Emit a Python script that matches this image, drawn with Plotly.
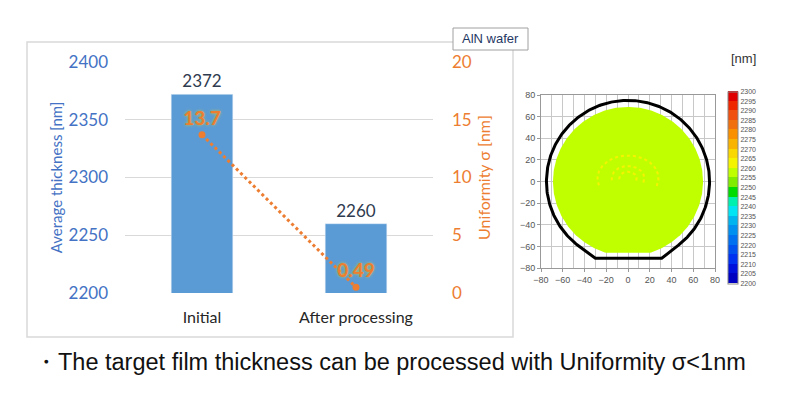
import numpy as np
import plotly.graph_objects as go

# ---------------- data ----------------
categories = ["Initial", "After processing"]
avg_thickness = [2372, 2260]          # nm, bars (left axis)
uniformity = [13.7, 0.49]              # nm, line (right axis)
uniformity_labels = ["13.7", "0.49"]

thick_ticks = [2200, 2250, 2300, 2350, 2400]
unif_ticks = [0, 5, 10, 15, 20]

# wafer map
map_ticks = [-80, -60, -40, -20, 0, 20, 40, 60, 80]
cbar_ticks = list(range(2200, 2301, 5))
wafer_level = 2258                      # nm, dominant level of the map
ring_level = 2262                       # nm, faint higher rings
band_colors = ["#0000C0", "#0010DC", "#0030F0", "#0050F0", "#0070F0",
               "#0090F0", "#00B4F0", "#00E4F4", "#00F0B0", "#00DC00",
               "#80EC00", "#C0FF00", "#F4F400", "#F8D800", "#F8B400",
               "#F89000", "#F07010", "#F05010", "#F02800", "#E00000"]
wafer_radius = 69
wafer_flat = -66
outline_radius = 75
outline_flat = -71
outline_flat_half = 30
ring_radii = [28, 15, 8]

# page body has an 8px margin: figure is sized to the remaining window
OFF = 8
W, H = 798 - OFF, 398 - OFF
def px(x): return (x - OFF) / W
def py(y): return 1 - (y - OFF) / H

BLUE_TXT = "#4472C4"
ORANGE = "#ED7D31"
BAR = "#5B9BD5"
NAVY = "#2F3B4F"
FONT = "Lato"

fig = go.Figure()

fig.add_trace(go.Bar(
    x=categories, y=avg_thickness, marker_color=BAR,
    text=[str(v) for v in avg_thickness], textposition="outside",
    textfont=dict(family=FONT, size=17, color=NAVY), cliponaxis=False,
    xaxis="x", yaxis="y", showlegend=False))

fig.add_trace(go.Scatter(
    x=categories, y=uniformity, mode="lines+markers+text",
    line=dict(color=ORANGE, width=3, dash="dot"),
    marker=dict(color=ORANGE, size=7),
    text=uniformity_labels, textposition="top center",
    textfont=dict(family=FONT, size=19, color=ORANGE, weight="bold",
                  shadow="0px 0px 3px #C8C840"),
    cliponaxis=False, xaxis="x", yaxis="y2", showlegend=False))

# ----- wafer map -----
nb = len(band_colors)
cs = []
for i, c in enumerate(band_colors):
    cs.append([i / nb, c])
    cs.append([(i + 1) / nb, c])

def level_color(v):
    idx = int((v - cbar_ticks[0]) / (cbar_ticks[-1] - cbar_ticks[0]) * nb)
    return band_colors[min(max(idx, 0), nb - 1)]

# wafer disk (measured area)
t = np.linspace(0, 2 * np.pi, 361)
dx = wafer_radius * np.cos(t)
dy = np.maximum(wafer_radius * np.sin(t), wafer_flat)
fig.add_trace(go.Scatter(
    x=dx, y=dy, mode="lines", fill="toself",
    fillcolor=level_color(wafer_level), line=dict(width=0),
    xaxis="x3", yaxis="y3", showlegend=False, hoverinfo="skip"))

# faint higher rings
for r in ring_radii:
    a = np.linspace(np.radians(-20), np.radians(200), 80)
    fig.add_trace(go.Scatter(
        x=r * np.cos(a), y=3 + r * np.sin(a) * 0.75, mode="lines",
        line=dict(color=level_color(ring_level), width=2, dash="dot"),
        xaxis="x3", yaxis="y3", showlegend=False, hoverinfo="skip"))

# wafer outline with flat
ang = np.radians(np.linspace(-52, 232, 300))
ox = list(outline_radius * np.cos(ang)) + [-outline_flat_half, outline_flat_half + 1]
oy = list(outline_radius * np.sin(ang)) + [outline_flat, outline_flat]
ox.append(ox[0]); oy.append(oy[0])
fig.add_trace(go.Scatter(
    x=ox, y=oy, mode="lines", line=dict(color="black", width=3),
    xaxis="x3", yaxis="y3", showlegend=False, hoverinfo="skip"))

# colorbar carrier
fig.add_trace(go.Scatter(
    x=[0], y=[0], mode="markers",
    marker=dict(size=1, color=[wafer_level], colorscale=cs,
                cmin=cbar_ticks[0], cmax=cbar_ticks[-1], showscale=True,
                colorbar=dict(x=px(728), xanchor="left", y=py(187.5),
                              yanchor="middle", lenmode="pixels", len=192,
                              thickness=10, tickvals=cbar_ticks,
                              tickfont=dict(family="Liberation Sans", size=7,
                                            color="#555"),
                              ticks="", outlinewidth=1, outlinecolor="#888",
                              xpad=0, ypad=0)),
    xaxis="x3", yaxis="y3", showlegend=False, hoverinfo="skip"))

fig.update_layout(
    width=W, height=H,
    margin=dict(l=0, r=0, t=0, b=0, pad=0, autoexpand=False),
    paper_bgcolor="white", plot_bgcolor="rgba(0,0,0,0)",
    bargap=0.6,
    xaxis=dict(domain=[px(125), px(433)], showgrid=False, showline=False,
               ticks="", tickfont=dict(family=FONT, size=16, color="#262626"),
               ticklabelstandoff=13, automargin=False),
    yaxis=dict(domain=[py(293), py(62)], range=[2200, 2400], tickvals=thick_ticks,
               gridcolor="#D9D9D9", gridwidth=1.3, zeroline=False, showline=False,
               tickfont=dict(family=FONT, size=17, color=BLUE_TXT),
               ticklabelstandoff=16, automargin=False,
               title=dict(text="Average thickness [nm]", standoff=2,
                          font=dict(family=FONT, size=15, color=BLUE_TXT))),
    yaxis2=dict(overlaying="y", side="right", range=[0, 20], tickvals=unif_ticks,
                showgrid=False, zeroline=False, showline=False,
                tickfont=dict(family=FONT, size=17, color=ORANGE),
                ticklabelstandoff=18, automargin=False,
                title=dict(text="Uniformity σ [nm]", standoff=7,
                           font=dict(family=FONT, size=16, color=ORANGE))),
    xaxis3=dict(domain=[px(541), px(715)], range=[-80, 80], tickvals=map_ticks,
                showgrid=True, gridcolor="#C8C8C8", zeroline=False,
                minor=dict(dtick=10, tick0=0, showgrid=True, gridcolor="#C8C8C8"),
                showline=True, linecolor="#999", mirror=True,
                ticks="outside", ticklen=3, tickcolor="#999",
                tickfont=dict(family="Liberation Sans", size=9, color="#555"),
                anchor="y3", automargin=False),
    yaxis3=dict(domain=[py(268), py(95)], range=[-80, 80], tickvals=map_ticks,
                showgrid=True, gridcolor="#C8C8C8", zeroline=False,
                showline=True, linecolor="#999", mirror=True,
                ticks="outside", ticklen=3, tickcolor="#999",
                tickfont=dict(family="Liberation Sans", size=9, color="#555"),
                anchor="x3", automargin=False),
    shapes=[
        dict(type="rect", xref="paper", yref="paper", x0=px(27), x1=px(513),
             y0=py(337), y1=py(42), line=dict(color="#D9D9D9", width=1.5),
             layer="below"),
        dict(type="rect", xref="paper", yref="paper", x0=px(453), x1=px(528),
             y0=py(50), y1=py(28), line=dict(color="#A0A0A0", width=1),
             fillcolor="white", layer="above"),
    ],
    annotations=[
        dict(text="AlN wafer", xref="paper", yref="paper", x=px(490.5), y=py(39),
             xanchor="center", yanchor="middle",
             showarrow=False, font=dict(family="Liberation Sans", size=13,
                                        color="#1F3864")),
        dict(text="[nm]", xref="paper", yref="paper", x=px(743), y=py(59),
             xanchor="center", yanchor="middle",
             showarrow=False, font=dict(family="Liberation Sans", size=13,
                                        color="#333")),
        dict(text="・The target film thickness can be processed with Uniformity σ<1nm",
             xref="paper", yref="paper", x=px(32), y=py(362), xanchor="left",
             yanchor="middle",
             showarrow=False, font=dict(family="Liberation Sans", size=23.5,
                                        color="#111")),
    ],
)

fig.write_html("out.html")
